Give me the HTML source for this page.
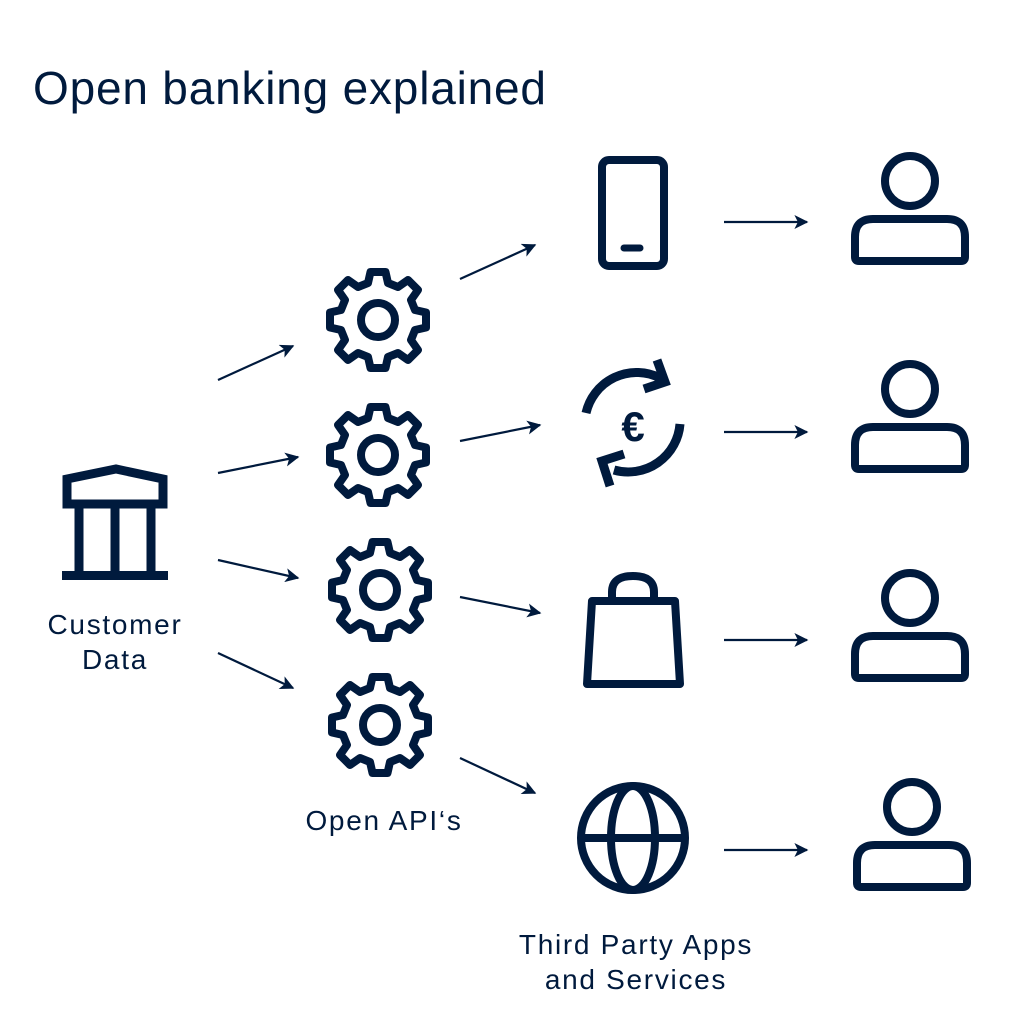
<!DOCTYPE html>
<html><head><style>
html,body{margin:0;padding:0;background:#fff}
svg{display:block}
text{font-family:"Liberation Sans",sans-serif;fill:#001a3d}
</style></head><body>
<svg width="1024" height="1024" viewBox="0 0 1024 1024" xmlns="http://www.w3.org/2000/svg">
<defs>
<marker id="ah2" viewBox="0 0 10 10" refX="9" refY="5" markerWidth="16" markerHeight="14" orient="auto" markerUnits="userSpaceOnUse">
<path d="M0,0 L10,5 L0,10 L2.5,5 z" fill="#001a3d"/>
</marker>
<g id="gear">
<polygon fill="none" stroke="#001a3d" stroke-width="8" stroke-linejoin="round" points="
-7.5,-48 7.5,-48 10,-37 20,-33 30,-40 40,-30 33,-20 37,-10 48,-7.5 48,7.5 37,10 33,20 40,30 30,40 20,33 10,37 7.5,48 -7.5,48 -10,37 -20,33 -30,40 -40,30 -33,20 -37,10 -48,7.5 -48,-7.5 -37,-10 -33,-20 -40,-30 -30,-40 -20,-33 -10,-37"/>
<circle r="17" fill="none" stroke="#001a3d" stroke-width="8"/>
</g>
<g id="person" fill="none" stroke="#001a3d" stroke-width="8">
<circle cx="0" cy="0" r="25"/>
<path d="M-51,80 L51,80 Q55,80 55,76 L55,56 Q55,38 37,38 L-37,38 Q-55,38 -55,56 L-55,76 Q-55,80 -51,80 Z" stroke-linejoin="round"/>
</g>
</defs>

<text x="33" y="104" font-size="46" letter-spacing="0.8">Open banking explained</text>

<!-- bank -->
<g fill="none" stroke="#001a3d" stroke-width="9">
<polygon points="67,479 116,469 163,479 163,504 67,504"/>
<line x1="79" y1="504" x2="79" y2="572"/>
<line x1="115" y1="504" x2="115" y2="572"/>
<line x1="151" y1="504" x2="151" y2="572"/>
</g>
<rect x="62" y="571" width="106" height="9" fill="#001a3d"/>
<text x="115" y="634" font-size="28" letter-spacing="1.7" text-anchor="middle">Customer</text>
<text x="115" y="669" font-size="28" letter-spacing="1.7" text-anchor="middle">Data</text>

<!-- gears -->
<use href="#gear" x="378" y="320"/>
<use href="#gear" x="378" y="455"/>
<use href="#gear" x="380" y="590"/>
<use href="#gear" x="380" y="725"/>
<text x="384" y="830" font-size="28" letter-spacing="1.7" text-anchor="middle">Open API‘s</text>

<!-- arrows -->
<g stroke="#001a3d" stroke-width="2.2" marker-end="url(#ah2)">
<line x1="218" y1="380" x2="293" y2="346"/>
<line x1="218" y1="473" x2="298" y2="457"/>
<line x1="218" y1="560" x2="298" y2="578"/>
<line x1="218" y1="653" x2="293" y2="688"/>
<line x1="460" y1="279" x2="535" y2="245"/>
<line x1="460" y1="441" x2="540" y2="425"/>
<line x1="460" y1="597" x2="540" y2="613"/>
<line x1="460" y1="758" x2="535" y2="793"/>
<line x1="724" y1="222" x2="807" y2="222"/>
<line x1="724" y1="432" x2="807" y2="432"/>
<line x1="724" y1="640" x2="807" y2="640"/>
<line x1="724" y1="850" x2="807" y2="850"/>
</g>

<!-- phone -->
<rect x="602" y="160" width="62" height="106" rx="7" fill="none" stroke="#001a3d" stroke-width="8"/>
<line x1="624" y1="248" x2="640" y2="248" stroke="#001a3d" stroke-width="7" stroke-linecap="round"/>

<!-- euro exchange -->
<g fill="none" stroke="#001a3d" stroke-width="9">
<path d="M586,413 A52,52 0 0 1 660,378"/>
<polyline points="657,360 665,382 644,389"/>
<path d="M680,424 A52,52 0 0 1 614,470"/>
<polyline points="610,486 602,461 624,454"/>
</g>
<text x="633" y="441" font-size="42" text-anchor="middle" font-weight="bold">€</text>

<!-- bag -->
<g fill="none" stroke="#001a3d" stroke-width="8" stroke-linejoin="round">
<polygon points="592,601 675,601 680,684 587,684"/>
<path d="M612,601 L612,592 Q612,576 633,576 Q654,576 654,592 L654,601"/>
</g>

<!-- globe -->
<g fill="none" stroke="#001a3d" stroke-width="8">
<circle cx="633" cy="838" r="52"/>
<line x1="581" y1="838" x2="685" y2="838"/>
<ellipse cx="633" cy="838" rx="22" ry="52"/>
</g>
<text x="636" y="954" font-size="28" letter-spacing="1.7" text-anchor="middle">Third Party Apps</text>
<text x="636" y="989" font-size="28" letter-spacing="1.7" text-anchor="middle">and Services</text>

<!-- persons -->
<use href="#person" x="910" y="181"/>
<use href="#person" x="910" y="389"/>
<use href="#person" x="910" y="598"/>
<use href="#person" x="912" y="807"/>
</svg>
</body></html>
